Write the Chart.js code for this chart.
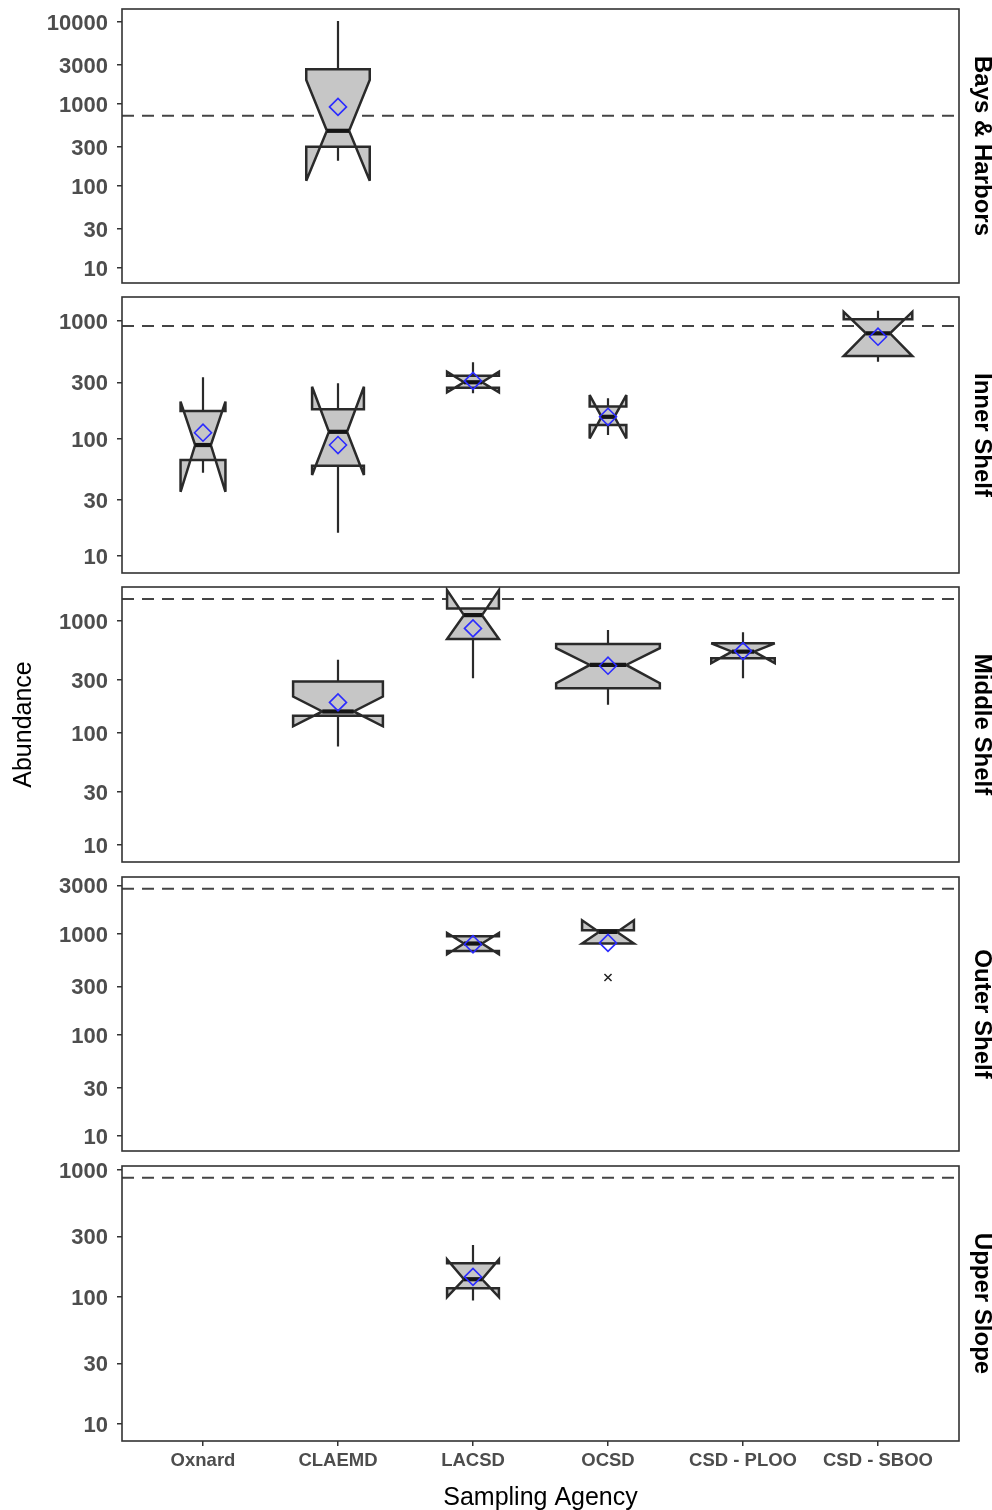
<!DOCTYPE html>
<html>
<head>
<meta charset="utf-8">
<script src="https://cdn.jsdelivr.net/npm/chart.js@4.4.1/dist/chart.umd.min.js"></script>
<style>
  html, body { margin: 0; padding: 0; background: #ffffff; }
  body { width: 992px; height: 1510px; position: relative; overflow: hidden; }
  canvas { position: absolute; left: 0; }
</style>
</head>
<body>
<script>
// ---------------- data ----------------
const habitats = ['Bays & Harbors', 'Inner Shelf', 'Middle Shelf', 'Outer Shelf', 'Upper Slope'];
const agencies = ['Oxnard', 'CLAEMD', 'LACSD', 'OCSD', 'CSD - PLOO', 'CSD - SBOO'];
const yTickValues = [10, 30, 100, 300, 1000, 3000, 10000];
const yMin = [6.5, 7.17, 7.06, 7.06, 7.35];
const yMax = [14400, 1600, 2018, 3622, 1075];
const referenceLine = [714, 906, 1574, 2770, 869];

// rows = habitats, columns = agencies (null = no samples)
const whiskerLow = [
  [null, 202, null, null, null, null],
  [51.2, 15.8, 243, 107, null, 451],
  [null, 76, 309, 179, 309, null],
  [null, null, 673, 796, null, null],
  [null, null, 94, null, null, null]
];
const q1 = [
  [null, 299, null, null, null, null],
  [65.6, 58.7, 270, 130, null, 503],
  [null, 143, 693, 252, 467, null],
  [null, null, 673, 796, null, null],
  [null, null, 117, null, null, null]
];
const notchLow = [
  [null, 115, null, null, null, null],
  [35.2, 48.9, 247, 100, null, 503],
  [null, 115, 693, 279, 421, null],
  [null, null, 624, 796, null, null],
  [null, null, 100, null, null, null]
];
const median = [
  [null, 469, null, null, null, null],
  [88, 114, 301, 153, null, 785],
  [null, 156, 1132, 406, 534, null],
  [null, null, 796, 1037, null, null],
  [null, null, 138, null, null, null]
];
const notchHigh = [
  [null, 1963, null, null, null, null],
  [206, 276, 370, 234, null, 1194],
  [null, 212, 1892, 573, 634, null],
  [null, null, 1014, 1352, null, null],
  [null, null, 198, null, null, null]
];
const q3 = [
  [null, 2650, null, null, null, null],
  [171, 177, 342, 187, null, 1033],
  [null, 289, 1300, 625, 634, null],
  [null, null, 940, 1079, null, null],
  [null, null, 184, null, null, null]
];
const whiskerHigh = [
  [null, 10280, null, null, null, null],
  [332, 295, 445, 220, null, 1225],
  [null, 451, 1300, 834, 795, null],
  [null, null, 940, 1079, null, null],
  [null, null, 257, null, null, null]
];
const means = [
  [null, 918, null, null, null, null],
  [112, 88, 309, 153, null, 735],
  [null, 188, 861, 400, 540, null],
  [null, null, 783, 807, null, null],
  [null, null, 144, null, null, null]
];
const sampleSize = [
  [null, 6, null, null, null, null],
  [3, 4, 4, 2, null, 7],
  [null, 12, 4, 16, 6, null],
  [null, null, 4, 4, null, null],
  [null, null, 4, null, null, null]
];
const outlierAgency = [[], [], [], [3], []];
const outlierValue  = [[], [], [], [367], []];

// ---------------- layout & style ----------------
const panelTop    = [9, 297, 587, 877, 1166];
const panelBottom = [283, 573, 862, 1151, 1441];
const PAD = 26;
const FONT = "'Liberation Sans', Arial, Helvetica, sans-serif";
const BOX_W_PER_SQRT_N = 0.192;   // box width (category units) per sqrt(n)  (varwidth)
const NOTCH_FRAC = 0.35;          // median segment / box width
const FRAME = '#333333';
const BOX_LINE = '#2a2a2a';

const boxPlugin = {
  id: 'notchedBoxes',
  afterDatasetDraw(chart, args, opts) {
    if (args.meta._dataset.label !== 'ref') return;
    const p = opts.panel;
    const {ctx, chartArea, scales: {x, y}} = chart;
    const Y = v => y.getPixelForValue(v);
    ctx.save();
    ctx.beginPath();
    ctx.rect(chartArea.left, chartArea.top, chartArea.right - chartArea.left, chartArea.bottom - chartArea.top);
    ctx.clip();
    for (let a = 0; a < agencies.length; a++) {
      if (median[p][a] == null) continue;
      const cx = x.getPixelForValue(a + 1);
      const w = BOX_W_PER_SQRT_N * Math.sqrt(sampleSize[p][a]);
      const half = x.getPixelForValue(a + 1 + w / 2) - cx;
      const xmin = cx - half, xmax = cx + half;
      const inset = half * (1 - NOTCH_FRAC);
      // whiskers
      ctx.strokeStyle = BOX_LINE; ctx.lineWidth = 2.2; ctx.lineCap = 'butt';
      ctx.beginPath();
      ctx.moveTo(cx, Y(q3[p][a])); ctx.lineTo(cx, Y(whiskerHigh[p][a]));
      ctx.moveTo(cx, Y(q1[p][a])); ctx.lineTo(cx, Y(whiskerLow[p][a]));
      ctx.stroke();
      // notched box (ggplot polygon)
      ctx.beginPath();
      ctx.moveTo(xmin, Y(q3[p][a]));
      ctx.lineTo(xmin, Y(notchHigh[p][a]));
      ctx.lineTo(xmin + inset, Y(median[p][a]));
      ctx.lineTo(xmin, Y(notchLow[p][a]));
      ctx.lineTo(xmin, Y(q1[p][a]));
      ctx.lineTo(xmax, Y(q1[p][a]));
      ctx.lineTo(xmax, Y(notchLow[p][a]));
      ctx.lineTo(xmax - inset, Y(median[p][a]));
      ctx.lineTo(xmax, Y(notchHigh[p][a]));
      ctx.lineTo(xmax, Y(q3[p][a]));
      ctx.closePath();
      ctx.fillStyle = '#c6c6c6';
      ctx.fill();
      ctx.lineJoin = 'miter'; ctx.miterLimit = 4;
      ctx.strokeStyle = BOX_LINE; ctx.lineWidth = 2.5;
      ctx.stroke();
      // median
      ctx.beginPath();
      ctx.moveTo(xmin + inset, Y(median[p][a]));
      ctx.lineTo(xmax - inset, Y(median[p][a]));
      ctx.strokeStyle = '#151515'; ctx.lineWidth = 4.2;
      ctx.stroke();
    }
    ctx.restore();
  },
  afterDraw(chart) {
    const {ctx, chartArea: c} = chart;
    ctx.save();
    ctx.strokeStyle = FRAME; ctx.lineWidth = 1.6;
    ctx.strokeRect(c.left, c.top, c.right - c.left, c.bottom - c.top);
    ctx.restore();
  }
};

function makePanel(p) {
  const last = p === habitats.length - 1;
  const canvas = document.createElement('canvas');
  const top = panelTop[p] - PAD;
  const height = last ? 1510 - top : (panelBottom[p] - panelTop[p]) + 2 * PAD;
  canvas.width = 992; canvas.height = height;
  canvas.style.top = top + 'px';
  canvas.style.width = '992px'; canvas.style.height = height + 'px';
  document.body.appendChild(canvas);

  const meanPts = [];
  agencies.forEach((a, i) => { if (means[p][i] != null) meanPts.push({x: i + 1, y: means[p][i]}); });
  const outPts = outlierAgency[p].map((a, k) => ({x: a + 1, y: outlierValue[p][k]}));

  new Chart(canvas, {
    type: 'scatter',
    data: {
      datasets: [
        {label: 'mean', data: meanPts, pointStyle: 'rectRot', pointRadius: 8.5,
         pointBorderColor: '#2b2bff', borderColor: '#2b2bff', pointBackgroundColor: 'rgba(0,0,0,0)',
         backgroundColor: 'rgba(0,0,0,0)', pointBorderWidth: 1.6, order: 1},
        {label: 'outlier', data: outPts, pointStyle: 'crossRot', pointRadius: 5,
         pointBorderColor: '#222222', borderColor: '#222222', pointBorderWidth: 1.5, order: 0},
        {label: 'ref', type: 'line', data: [{x: 0.4, y: referenceLine[p]}, {x: 6.6, y: referenceLine[p]}],
         borderColor: '#444444', borderWidth: 2, borderDash: [12, 8], pointRadius: 0, fill: false, order: 2}
      ]
    },
    options: {
      responsive: false, animation: false, devicePixelRatio: 1, events: [],
      layout: {padding: {top: PAD, bottom: last ? 0 : PAD, left: 0, right: 0}},
      plugins: {legend: {display: false}, tooltip: {enabled: false}, notchedBoxes: {panel: p}},
      scales: {
        x: {
          type: 'linear', min: 0.4, max: 6.6, bounds: 'data', display: last,
          afterBuildTicks: s => { s.ticks = agencies.map((a, i) => ({value: i + 1})); },
          ticks: {callback: v => agencies[v - 1] || '', font: {family: FONT, size: 18.5, weight: 'bold'},
                  color: '#4d4d4d', padding: 4, maxRotation: 0, minRotation: 0, autoSkip: false},
          grid: {drawOnChartArea: false, drawTicks: true, tickLength: 5, color: FRAME, lineWidth: 1.5},
          border: {display: false},
          title: {display: true, text: 'Sampling Agency', font: {family: FONT, size: 25}, color: '#000000',
                  padding: {top: 0, bottom: -3}},
          afterFit: s => { if (last) s.height = 69; }
        },
        y: {
          type: 'logarithmic', position: 'left', min: yMin[p], max: yMax[p], bounds: 'data',
          afterBuildTicks: s => { s.ticks = yTickValues.filter(v => v >= yMin[p] && v <= yMax[p]).map(v => ({value: v})); },
          ticks: {callback: v => String(v), font: {family: FONT, size: 22, weight: 'bold'},
                  color: '#4d4d4d', padding: 9, autoSkip: false, labelOffset: 2},
          grid: {drawOnChartArea: false, drawTicks: true, tickLength: 5, color: FRAME, lineWidth: 1.5},
          border: {display: false},
          title: {display: p === 2, text: 'Abundance', font: {family: FONT, size: 25}, color: '#000000',
                  padding: {top: 9, bottom: 0}},
          afterFit: s => { s.width = 122; }
        },
        strip: {
          type: 'linear', position: 'right', min: 0, max: 1, display: true,
          grid: {display: false, drawTicks: false}, border: {display: false}, ticks: {display: false},
          title: {display: true, text: habitats[p], font: {family: FONT, size: 24, weight: 'bold', lineHeight: 0.8},
                  color: '#000000', padding: {top: 1, bottom: 0}},
          afterFit: s => { s.width = 33; }
        }
      }
    },
    plugins: [boxPlugin]
  });
}

habitats.forEach((h, p) => makePanel(p));
</script>
</body>
</html>
